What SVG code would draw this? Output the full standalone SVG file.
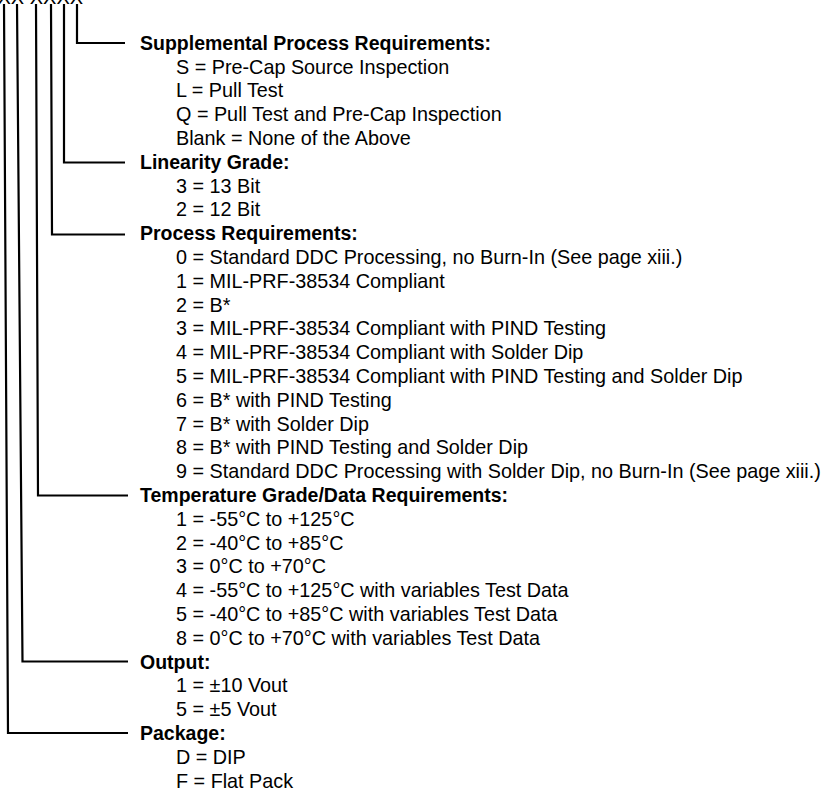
<svg xmlns="http://www.w3.org/2000/svg" width="830" height="790" viewBox="0 0 830 790">
<style>
text{font-family:"Liberation Sans",Arial,sans-serif;fill:#000}
.h{font-weight:bold;font-size:19.5px}
.i{font-size:19.8px}
.c{fill:none;stroke:#000;stroke-width:2.2}
</style>
<rect width="830" height="790" fill="#fff"/>
<g id="code"><text x="-2.5" y="4" style="font-size:20px">XX XXXX</text></g>
<g id="connectors">
<path class="c" d="M4,4 L8,733 L128,733"/>
<path class="c" d="M17,4 L22.5,661.5 L128,661.5"/>
<path class="c" d="M36,4 L38,495.5 L128,495.5"/>
<path class="c" d="M51,4 L52,234.5 L125,234.5"/>
<path class="c" d="M64,4 L64,162.5 L125,162.5"/>
<path class="c" d="M77,4 L77,43 L125,43"/>
</g>
<g id="supplemental">
<text class="h" x="140" y="49.8">Supplemental Process Requirements:</text>
<text class="i" x="176" y="73.6">S = Pre-Cap Source Inspection</text>
<text class="i" x="176" y="97.4">L = Pull Test</text>
<text class="i" x="176" y="121.2">Q = Pull Test and Pre-Cap Inspection</text>
<text class="i" x="176" y="145">Blank = None of the Above</text>
</g>
<g id="linearity">
<text class="h" x="140" y="168.8">Linearity Grade:</text>
<text class="i" x="176" y="192.6">3 = 13 Bit</text>
<text class="i" x="176" y="216.4">2 = 12 Bit</text>
</g>
<g id="process">
<text class="h" x="140" y="240.2">Process Requirements:</text>
<text class="i" x="176" y="264">0 = Standard DDC Processing, no Burn-In (See page xiii.)</text>
<text class="i" x="176" y="287.8">1 = MIL-PRF-38534 Compliant</text>
<text class="i" x="176" y="311.6">2 = B*</text>
<text class="i" x="176" y="335.4">3 = MIL-PRF-38534 Compliant with PIND Testing</text>
<text class="i" x="176" y="359.2">4 = MIL-PRF-38534 Compliant with Solder Dip</text>
<text class="i" x="176" y="383">5 = MIL-PRF-38534 Compliant with PIND Testing and Solder Dip</text>
<text class="i" x="176" y="406.8">6 = B* with PIND Testing</text>
<text class="i" x="176" y="430.6">7 = B* with Solder Dip</text>
<text class="i" x="176" y="454.4">8 = B* with PIND Testing and Solder Dip</text>
<text class="i" x="176" y="478.2">9 = Standard DDC Processing with Solder Dip, no Burn-In (See page xiii.)</text>
</g>
<g id="temperature">
<text class="h" x="140" y="502">Temperature Grade/Data Requirements:</text>
<text class="i" x="176" y="525.8">1 = -55°C to +125°C</text>
<text class="i" x="176" y="549.6">2 = -40°C to +85°C</text>
<text class="i" x="176" y="573.4">3 = 0°C to +70°C</text>
<text class="i" x="176" y="597.2">4 = -55°C to +125°C with variables Test Data</text>
<text class="i" x="176" y="621">5 = -40°C to +85°C with variables Test Data</text>
<text class="i" x="176" y="644.8">8 = 0°C to +70°C with variables Test Data</text>
</g>
<g id="output">
<text class="h" x="140" y="668.6">Output:</text>
<text class="i" x="176" y="692.4">1 = ±10 Vout</text>
<text class="i" x="176" y="716.2">5 = ±5 Vout</text>
</g>
<g id="package">
<text class="h" x="140" y="740">Package:</text>
<text class="i" x="176" y="763.8">D = DIP</text>
<text class="i" x="176" y="787.6">F = Flat Pack</text>
</g>
</svg>
